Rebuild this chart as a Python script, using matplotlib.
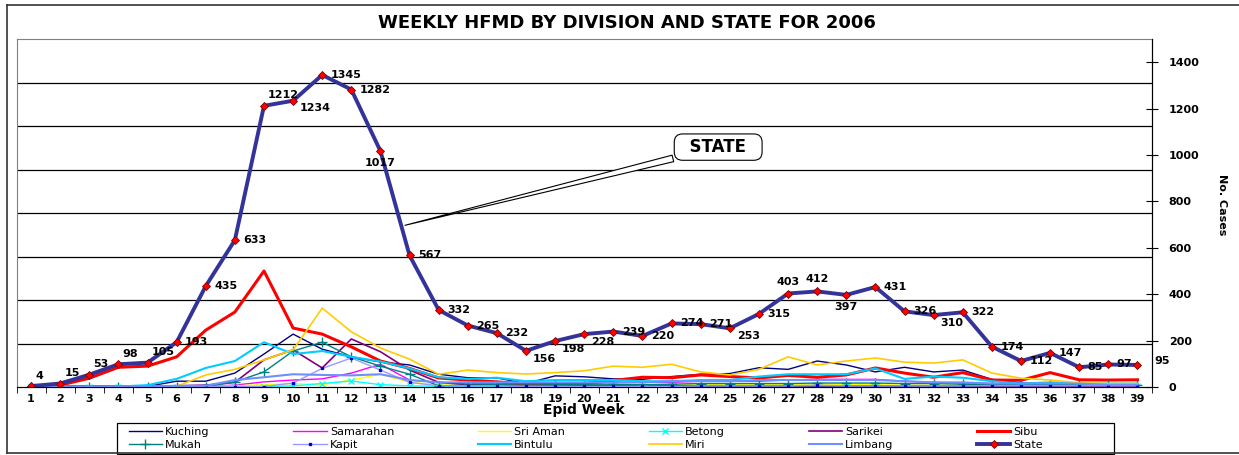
import matplotlib
matplotlib.use("agg")
import matplotlib.pyplot as plt
from matplotlib.lines import Line2D
from matplotlib.patches import Rectangle

weeks = list(range(1, 40))

state = [4, 15, 53, 98, 105, 193, 435, 633, 1212, 1234, 1345, 1282, 1017, 567, 332, 265, 232, 156, 198, 228,
         239, 220, 274, 271, 253, 315, 403, 412, 397, 431, 326, 310, 322, 174, 112, 147, 85, 97, 95]
kuching = [5, 5, 5, 5, 3, 25, 25, 60, 142, 228, 163, 130, 108, 95, 55, 40, 39, 15, 48, 44,
           35, 33, 45, 55, 58, 83, 76, 112, 95, 65, 85, 65, 73, 33, 17, 15, 15, 12, 12]
samarahan = [1, 1, 1, 2, 2, 2, 3, 8, 22, 30, 35, 60, 98, 30, 20, 15, 15, 10, 15, 15,
             20, 20, 20, 25, 25, 25, 30, 33, 33, 33, 25, 20, 17, 15, 10, 10, 10, 10, 10]
sri_aman = [1, 1, 1, 1, 1, 1, 2, 5, 10, 15, 10, 30, 55, 20, 10, 5, 5, 5, 5, 8,
            8, 8, 10, 10, 10, 10, 10, 10, 10, 10, 8, 8, 8, 5, 5, 5, 5, 5, 5]
betong = [1, 1, 1, 1, 1, 1, 1, 2, 2, 5, 15, 26, 10, 5, 3, 3, 3, 3, 3, 3,
          3, 3, 3, 3, 3, 3, 3, 3, 3, 3, 3, 3, 3, 3, 3, 3, 3, 3, 3]
sarikei = [1, 1, 1, 2, 2, 5, 8, 20, 117, 160, 82, 207, 152, 73, 20, 10, 8, 5, 5, 5,
           5, 5, 5, 5, 5, 5, 5, 5, 5, 5, 5, 5, 5, 3, 3, 3, 3, 3, 3]
sibu = [4, 8, 38, 85, 90, 130, 245, 323, 500, 254, 228, 173, 112, 80, 39, 30, 22, 13, 13, 15,
        28, 42, 40, 52, 45, 39, 50, 42, 52, 82, 60, 42, 62, 30, 29, 62, 31, 30, 31]
mukah = [1, 1, 1, 1, 1, 2, 2, 22, 65, 155, 193, 130, 90, 55, 5, 8, 10, 8, 10, 12,
         12, 10, 12, 15, 15, 15, 15, 17, 17, 17, 15, 15, 12, 10, 10, 10, 10, 8, 8]
kapit = [1, 1, 1, 1, 1, 2, 2, 2, 2, 17, 80, 125, 73, 20, 5, 5, 5, 3, 3, 3,
         3, 3, 3, 5, 5, 5, 5, 8, 5, 5, 5, 5, 5, 5, 5, 5, 5, 5, 5]
bintulu = [2, 2, 2, 2, 8, 35, 82, 112, 193, 142, 155, 130, 110, 80, 42, 35, 40, 25, 30, 30,
           30, 25, 25, 30, 30, 45, 55, 55, 55, 80, 35, 45, 40, 25, 15, 20, 15, 15, 15]
miri = [1, 1, 1, 1, 1, 3, 52, 76, 117, 160, 340, 238, 168, 120, 55, 73, 62, 56, 62, 70,
        90, 85, 98, 65, 52, 76, 130, 95, 112, 125, 107, 103, 117, 60, 38, 30, 18, 15, 15]
limbang = [2, 2, 2, 3, 3, 5, 5, 30, 42, 55, 52, 50, 55, 30, 20, 20, 20, 20, 20, 20,
           20, 20, 25, 25, 25, 30, 30, 30, 30, 30, 25, 20, 20, 15, 15, 15, 15, 10, 10]

# where each State data label sits relative to its marker
label_pos = ["ar", "ar", "ar", "ar", "ar", "r", "r", "r", "ar", "br", "r", "r", "b", "r",
             "r", "r", "r", "br", "br", "br", "r", "r", "r", "r", "br", "r", "a", "a", "b",
             "r", "r", "br", "r", "r", "r", "r", "r", "r", "far"]
offsets = {"r": (6, 0, "left", "center"), "ar": (3, 4, "left", "bottom"),
           "br": (5, -2, "left", "top"), "a": (0, 5, "center", "bottom"),
           "b": (0, -5, "center", "top"), "far": (12, 3, "left", "center")}

plt.rcParams["font.family"] = ["DejaVu Sans"]

fig = plt.figure(figsize=(12.39, 4.55), dpi=100)
ax = fig.add_axes([16.5 / 1239, 1 - 387 / 455, (1152 - 16.5) / 1239, 348 / 455])

# left (hidden) axis only carries the horizontal gridlines
ax.set_ylim(0, 8)
ax.set_yticks(range(1, 8))
ax.tick_params(axis="y", length=0, labelleft=False)
ax.yaxis.grid(True, color="black", lw=0.9)
ax.set_axisbelow(True)
for s in ("top", "left"):
    ax.spines[s].set_color("#808080")
ax.spines["bottom"].set_color("black")

ax.set_xlim(0.5, 39.5)
ax.set_xticks(weeks)
ax.set_xticklabels([str(w) for w in weeks], fontsize=8, fontweight="bold")
ax.set_xticks([w + 0.5 for w in range(0, 40)], minor=True)
ax.tick_params(axis="x", which="major", length=0, pad=5)
ax.tick_params(axis="x", which="minor", length=4, direction="out")
ax.set_xlabel("Epid Week", fontsize=10, fontweight="bold", labelpad=-1)

ax2 = ax.twinx()
ax2.set_ylim(0, 1500)
ax2.set_yticks(range(0, 1401, 200))
ax2.set_yticklabels([str(v) for v in range(0, 1401, 200)], fontsize=8, fontweight="bold")
ax2.tick_params(axis="y", direction="inout", length=8, pad=8)
ax2.spines["right"].set_color("black")
ax2.spines["top"].set_visible(False)
ax2.spines["left"].set_visible(False)

lines = [
    ("Kuching", kuching, dict(color="#000080", lw=1.0)),
    ("Samarahan", samarahan, dict(color="#FF00FF", lw=1.0)),
    ("Sri Aman", sri_aman, dict(color="#FFFF00", lw=1.0)),
    ("Betong", betong, dict(color="#00FFFF", lw=1.0, marker="x", ms=4)),
    ("Sarikei", sarikei, dict(color="#800080", lw=1.2)),
    ("Sibu", sibu, dict(color="#FF0000", lw=2.2)),
    ("Mukah", mukah, dict(color="#008080", lw=1.0, marker="+", ms=7)),
    ("Kapit", kapit, dict(color="#9999FF", lw=1.0, marker="s", ms=2, mfc="#0000CC", mec="#0000CC")),
    ("Bintulu", bintulu, dict(color="#00CCFF", lw=1.5)),
    ("Miri", miri, dict(color="#FFCC00", lw=1.2)),
    ("Limbang", limbang, dict(color="#6F8FFF", lw=1.5)),
    ("State", state, dict(color="#333399", lw=2.8, marker="D", ms=4, mfc="#FF0000", mec="#800000", mew=0.6)),
]
handles = []
for name, vals, kw in lines:
    h, = ax2.plot(weeks, vals, label=name, **kw)
    handles.append(h)

for w, v, p in zip(weeks, state, label_pos):
    dx, dy, ha, va = offsets[p]
    ax2.annotate(str(v), (w, v), xytext=(dx, dy), textcoords="offset points",
                 ha=ha, va=va, fontsize=8, fontweight="bold", annotation_clip=False)

ax2.annotate("  STATE  ", xy=(13.75, 694), xytext=(24.6, 1034), fontsize=12, fontweight="bold",
             ha="center", va="center",
             bbox=dict(boxstyle="round,pad=0.25,rounding_size=0.5", fc="white", ec="black", lw=0.8),
             arrowprops=dict(arrowstyle="wedge,tail_width=0.4,shrink_factor=0.5",
                             fc="white", ec="black", lw=0.8))

fig.text(1222 / 1239, 1 - 205 / 455, "No. Cases", rotation=-90, fontsize=8, fontweight="bold",
         ha="center", va="center")
fig.suptitle("WEEKLY HFMD BY DIVISION AND STATE FOR 2006", x=627 / 1239, y=1 - 23 / 455,
             fontsize=13, fontweight="bold", va="center")

# legend is filled row by row in the original: reorder for matplotlib's column fill
order = [0, 6, 1, 7, 2, 8, 3, 9, 4, 10, 5, 11]
leg = fig.legend([handles[i] for i in order], [lines[i][0] for i in order],
                 loc="center left", bbox_to_anchor=(122 / 1239, 1 - 454 / 455, (1050 - 122) / 1239, 31 / 455),
                 mode="expand", ncol=6, fontsize=8, frameon=False,
                 handlelength=3, borderpad=0.1, labelspacing=0.3, handletextpad=0.3)
fig.add_artist(Rectangle((117 / 1239, 1 - 454 / 455), (1114 - 117) / 1239, 31 / 455,
                         transform=fig.transFigure, fill=False, ec="black", lw=0.9))

# outer chart border (left, top, bottom)
x0, y0, y1 = 7 / 1239, 1 - 453 / 455, 1 - 5 / 455
for xs, ys in (([x0, x0], [y0, y1]), ([x0, 1], [y1, y1]), ([x0, 1], [y0, y0])):
    fig.add_artist(Line2D(xs, ys, transform=fig.transFigure, color="#333333", lw=1.2))

fig.savefig("out.png", dpi=100)
